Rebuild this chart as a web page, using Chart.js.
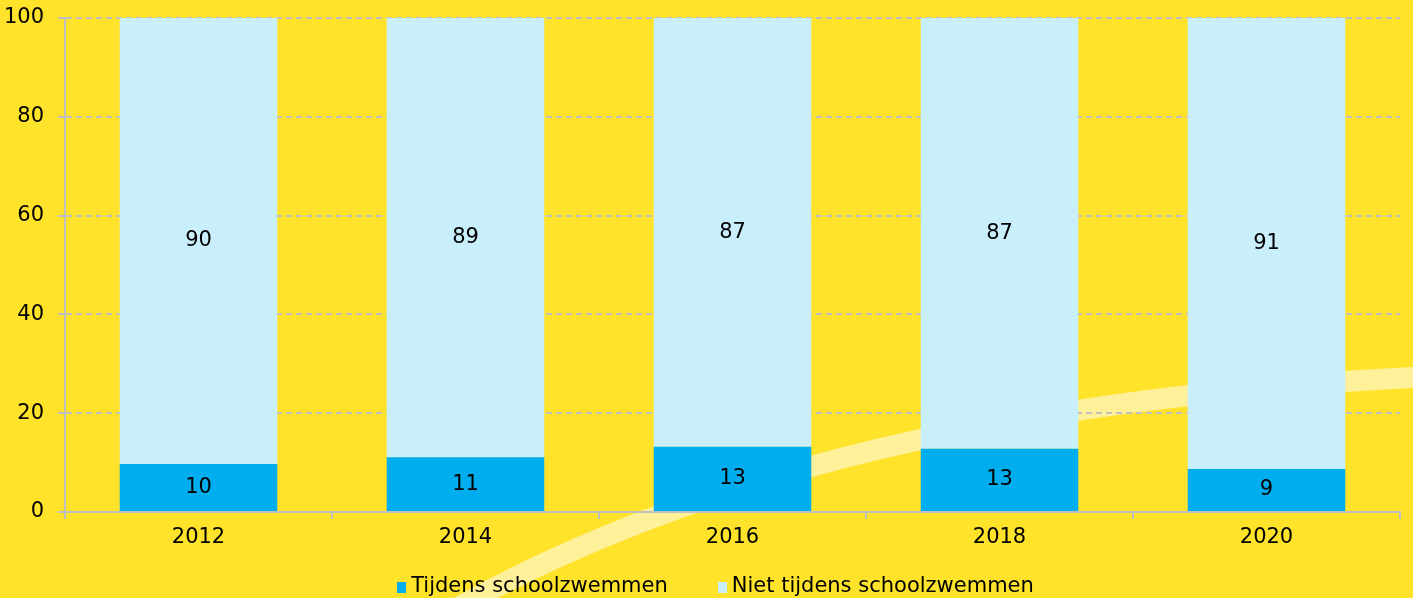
<!DOCTYPE html>
<html>
<head>
<meta charset="utf-8">
<script src="https://cdn.jsdelivr.net/npm/chart.js@4"></script>
<style>
  html, body { margin: 0; padding: 0; background: #FFE32B; overflow: hidden; }
  #wrap { position: relative; width: 1413px; height: 598px; }
  #legend {
    position: absolute; left: 18px; right: 0; top: 573px;
    text-align: center; font: 21px 'DejaVu Sans', sans-serif; color: #000;
    white-space: nowrap;
  }
  #legend span.item { display: inline-block; margin: 0 25px; }
  #legend i { display: inline-block; width: 9px; height: 11px; margin-right: 5px; vertical-align: -1px; }
</style>
</head>
<body>
<div id="wrap">
  <canvas id="myChart" width="1413" height="598"></canvas>
  <div id="legend"></div>
</div>
<script>
// # Data
const years = ["2012", "2014", "2016", "2018", "2020"];
const tijdens = [9.7, 11.1, 13.2, 12.8, 8.7];
const nietTijdens = [90.3, 88.9, 86.8, 87.2, 91.3];
const yTicks = [0, 20, 40, 60, 80, 100];

const darkBlue = "#00AEEF";
const lightBlue = "#C9EFFD";
const fontFam = "'DejaVu Sans', sans-serif";

// # Light curved band behind the chart (decoration)
const bandPlugin = {
  id: "band",
  beforeDraw(chart) {
    const ctx = chart.ctx;
    ctx.save();
    ctx.strokeStyle = "#FFF09A";
    ctx.lineWidth = 21;
    ctx.beginPath();
    ctx.moveTo(450, 612);
    ctx.quadraticCurveTo(815, 405, 1425, 377);
    ctx.stroke();
    ctx.restore();
  },
};

// # Values written in the middle of each segment
const labelPlugin = {
  id: "segLabels",
  afterDatasetsDraw(chart) {
    const ctx = chart.ctx;
    ctx.save();
    ctx.font = "21px " + fontFam;
    ctx.fillStyle = "#000";
    ctx.textAlign = "center";
    ctx.textBaseline = "middle";
    chart.data.datasets.forEach((ds, i) => {
      chart.getDatasetMeta(i).data.forEach((bar, j) => {
        const c = bar.getCenterPoint();
        ctx.fillText(Math.round(ds.data[j]), c.x, c.y);
      });
    });
    ctx.restore();
  },
};

const chart = document.getElementById("myChart");

const myChart = new Chart(chart, {
  type: "bar",
  data: {
    labels: years,
    datasets: [
      {
        label: "Tijdens schoolzwemmen",
        data: tijdens,
        backgroundColor: darkBlue,
        barPercentage: 0.59,
        categoryPercentage: 1,
      },
      {
        label: "Niet tijdens schoolzwemmen",
        data: nietTijdens,
        backgroundColor: lightBlue,
        barPercentage: 0.59,
        categoryPercentage: 1,
      },
    ],
  },
  options: {
    responsive: false,
    animation: false,
    layout: { padding: { top: 18, right: 13, left: 0, bottom: 0 } },
    plugins: {
      tooltip: { enabled: false },
      legend: { display: false },
    },
    scales: {
      x: {
        stacked: true,
        offset: true,
        grid: {
          offset: true,
          drawOnChartArea: false,
          color: "#C0C0C0",
          lineWidth: 2,
          tickLength: 7,
        },
        border: { color: "#C0C0C0", width: 2 },
        ticks: {
          color: "#000",
          font: { family: fontFam, size: 21 },
          padding: 6,
        },
        afterFit(scale) {
          scale.height = 598 - 512;
          scale.paddingLeft = 0;
          scale.paddingRight = 0;
        },
      },
      y: {
        stacked: true,
        min: 0,
        max: 100,
        afterBuildTicks(scale) {
          scale.ticks = yTicks.map((v) => ({ value: v }));
        },
        grid: {
          color: "#C0C0C0",
          lineWidth: 2,
          tickLength: 7,
          tickBorderDash: [6, 4],
        },
        border: { color: "#C0C0C0", width: 2, dash: [6, 4] },
        ticks: {
          color: "#000",
          font: { family: fontFam, size: 21 },
          padding: 14,
        },
        afterFit(scale) {
          scale.width = 65;
          scale.paddingTop = 0;
          scale.paddingBottom = 0;
        },
      },
    },
  },
  plugins: [bandPlugin, labelPlugin],
});

// # Legend under the chart
const legend = document.getElementById("legend");
legend.innerHTML = myChart.data.datasets
  .map((ds) => `<span class="item"><i style="background:${ds.backgroundColor}"></i>${ds.label}</span>`)
  .join("");
</script>
</body>
</html>
